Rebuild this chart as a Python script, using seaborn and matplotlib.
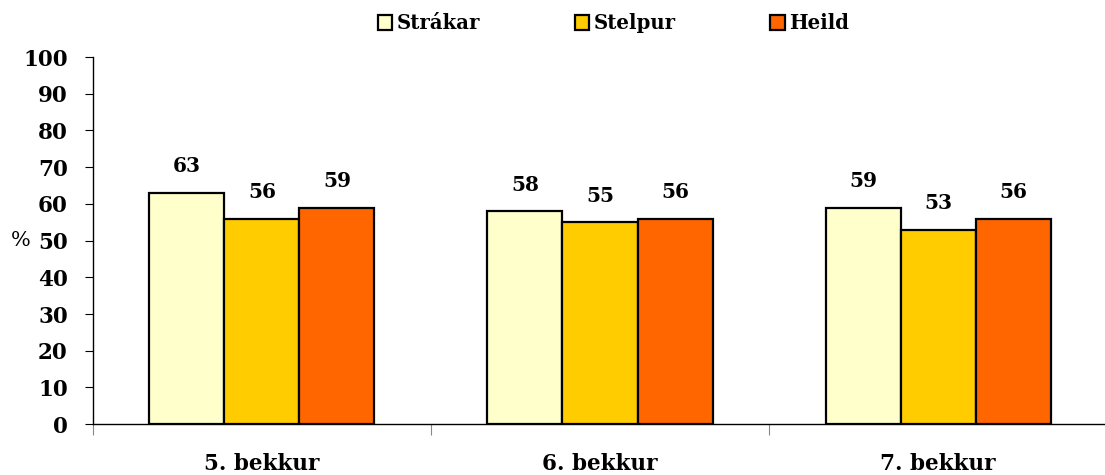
import matplotlib
matplotlib.use("Agg")
import matplotlib.pyplot as plt
import seaborn as sns
import pandas as pd
from matplotlib.ticker import FixedLocator

categories = ["5. bekkur", "6. bekkur", "7. bekkur"]
series_names = ["Strákar", "Stelpur", "Heild"]
strakar = [63, 58, 59]
stelpur = [56, 55, 53]
heild = [59, 56, 56]
colors = ["#FFFFCC", "#FFCC00", "#FF6600"]
yticks = [0, 10, 20, 30, 40, 50, 60, 70, 80, 90, 100]

rows = []
for name, vals in zip(series_names, [strakar, stelpur, heild]):
    for c, v in zip(categories, vals):
        rows.append({"bekkur": c, "hópur": name, "gildi": v})
df = pd.DataFrame(rows)

sns.set_style("white")
plt.rcParams["font.family"] = ["DejaVu Serif"]
plt.rcParams["font.weight"] = "bold"
for k in ["text.color", "axes.labelcolor", "xtick.color", "ytick.color", "xtick.labelcolor", "ytick.labelcolor"]:
    plt.rcParams[k] = "black"

fig = plt.figure(figsize=(11.05, 4.75), dpi=100)
ax = fig.add_axes([0.084, 0.107, 0.918, 0.773])

sns.barplot(data=df, x="bekkur", y="gildi", hue="hópur", order=categories,
            hue_order=series_names, palette=colors, width=0.666,
            edgecolor="black", linewidth=1.6, saturation=1, ax=ax, legend=True)

for cont in ax.containers:
    ax.bar_label(cont, fmt="%d", padding=12, fontsize=14.5, fontweight="bold", color="black")

ax.set_ylim(0, 100)
ax.set_xlim(-0.5, 2.5)
ax.set_yticks(yticks)
ax.set_yticklabels([str(t) for t in yticks], fontsize=15.5, fontweight="bold")
ax.tick_params(axis="y", length=6, width=0.8, left=True, pad=12, color="black")
ax.xaxis.set_minor_locator(FixedLocator([-0.5, 0.5, 1.5, 2.5]))
ax.tick_params(axis="x", which="major", length=0, pad=21, labelsize=15.5)
ax.tick_params(axis="x", which="minor", length=8, width=0.8, bottom=True, color="#888888")
for lab in ax.get_xticklabels():
    lab.set_fontweight("bold")
ax.set_xlabel("")
ax.set_ylabel("%", rotation=0, fontsize=15, fontweight="normal", labelpad=2, va="center")

for s in ["top", "right"]:
    ax.spines[s].set_visible(False)
for s in ["left", "bottom"]:
    ax.spines[s].set_color("black")
    ax.spines[s].set_linewidth(1.0)

handles, labels = ax.get_legend_handles_labels()
ax.legend(handles, labels, loc="center", bbox_to_anchor=(0.555, 0.951),
          bbox_transform=fig.transFigure, ncol=3, frameon=False,
          handlelength=0.75, handleheight=0.75, handletextpad=0.2,
          columnspacing=4.8, prop={"weight": "bold", "size": 14.2})

fig.savefig("out.png", dpi=100)
